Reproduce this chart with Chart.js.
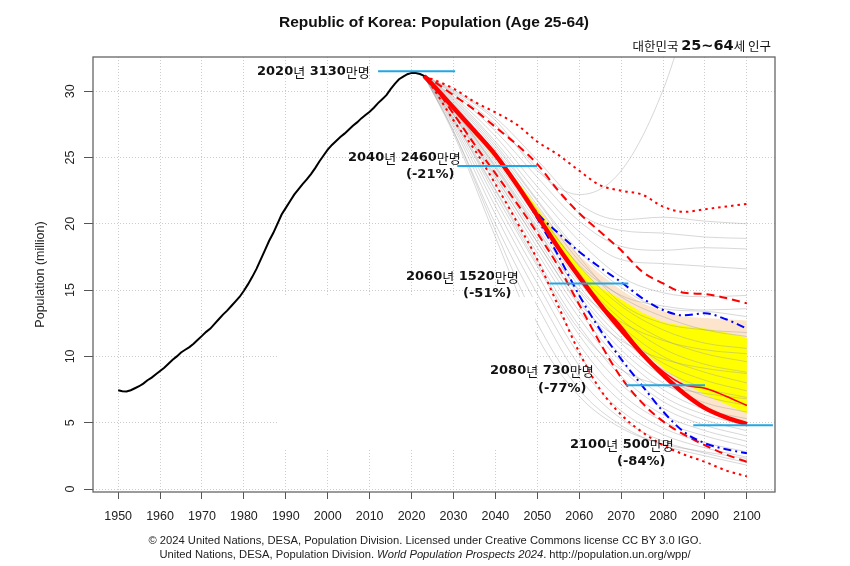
<!DOCTYPE html>
<html><head><meta charset="utf-8">
<script src="https://cdn.jsdelivr.net/npm/chart.js@4.4.1/dist/chart.umd.min.js"></script>
<style>html,body{margin:0;padding:0;background:#fff}canvas{display:block}</style>
</head><body>
<canvas id="c" width="850" height="566"></canvas>
<script>
// ---------- DATA ----------
const histYears = [1950,1951,1952,1953,1954,1955,1956,1957,1958,1959,1960,1961,1962,1963,1964,1965,1966,1967,1968,1969,1970,1971,1972,1973,1974,1975,1976,1977,1978,1979,1980,1981,1982,1983,1984,1985,1986,1987,1988,1989,1990,1991,1992,1993,1994,1995,1996,1997,1998,1999,2000,2001,2002,2003,2004,2005,2006,2007,2008,2009,2010,2011,2012,2013,2014,2015,2016,2017,2018,2019,2020,2021,2022,2023];
const histValues = [7.45,7.38,7.35,7.45,7.6,7.75,7.95,8.2,8.4,8.65,8.9,9.15,9.45,9.75,10.0,10.3,10.5,10.7,10.95,11.25,11.55,11.85,12.1,12.45,12.8,13.15,13.45,13.8,14.15,14.5,14.95,15.45,16.0,16.6,17.3,18.0,18.7,19.3,20.0,20.7,21.2,21.7,22.2,22.6,23.0,23.35,23.75,24.2,24.7,25.15,25.6,25.95,26.25,26.55,26.8,27.1,27.4,27.65,27.95,28.2,28.45,28.75,29.1,29.4,29.7,30.15,30.55,30.9,31.1,31.28,31.38,31.38,31.3,31.15];

const projYears = [2023,2025,2030,2035,2040,2045,2050,2055,2060,2065,2070,2075,2080,2085,2090,2095,2100];
const median  = [31.15,30.5,28.75,27.0,25.2,23.0,20.6,18.2,16.0,13.9,12.0,10.2,8.6,7.2,6.1,5.4,4.9];
const upper80 = [31.15,30.8,29.7,28.6,27.3,26.0,24.5,22.5,20.8,19.4,18.0,16.4,15.5,14.8,14.7,14.4,14.0];
const lower80 = [31.15,30.5,28.3,26.0,23.8,21.6,19.3,16.8,13.9,11.0,8.4,6.5,5.1,4.1,3.3,2.6,2.05];
const upper95 = [31.15,30.9,30.2,29.2,28.4,27.5,26.2,25.2,24.0,22.9,22.5,22.2,21.3,20.9,21.1,21.3,21.5];
const lower95 = [31.15,30.3,27.8,25.6,23.0,20.2,17.3,13.8,10.3,7.5,5.6,4.3,3.3,2.6,2.05,1.4,0.95];
const plusHalfChild  = [31.15,30.5,28.75,27.0,25.2,23.0,20.8,19.3,17.9,16.7,15.6,14.4,13.5,13.1,13.25,12.8,12.1];
const minusHalfChild = [31.15,30.5,28.75,27.0,25.2,23.0,20.4,17.6,14.6,12.0,9.8,7.8,5.85,4.3,3.45,3.0,2.7];

const bandYears   = [2025,2030,2035,2040,2045,2050,2055,2060,2065,2070,2075,2080,2085,2090,2095,2100];
const yellowUpper = [30.5,28.75,27.0,25.25,23.3,21.2,18.9,16.8,15.2,14.3,13.3,12.6,12.3,12.1,11.8,11.4];
const yellowLower = [30.45,28.55,26.75,24.95,22.8,20.6,18.2,16.0,14.0,12.2,10.5,9.1,8.0,7.1,6.4,5.7];
const beigeUpper  = [30.5,28.75,27.0,25.25,23.3,21.3,19.3,17.6,16.2,15.0,14.0,13.4,13.0,12.9,12.8,12.7];
const beigeLower  = [30.45,28.55,26.75,24.95,22.8,20.5,18.1,15.9,13.8,11.9,10.1,8.5,7.1,6.0,5.3,4.85];

const altYears  = [2055,2060,2065,2070,2075,2080,2085,2090,2095,2100];
const altMedian = [18.2,16.0,14.0,12.3,10.3,8.85,7.85,7.6,7.0,6.3];

const trajYears = [2023,2030,2040,2050,2060,2070,2080,2090,2100];
const trajectories = [
  [31.15,30.0,27.8,24.0,22.2,24.0,30.1,40.0,48.0],
  [31.15,30.1,28.0,24.8,21.5,20.3,20.5,20.2,20.0],
  [31.15,29.9,27.5,24.2,20.8,19.5,19.3,19.0,18.9],
  [31.15,29.8,27.0,23.5,20.2,18.3,18.0,18.2,18.1],
  [31.15,29.6,26.6,22.8,19.4,17.3,17.0,16.8,16.6],
  [31.15,29.5,26.2,22.3,18.7,16.0,14.8,14.5,14.6],
  [31.15,29.4,26.0,21.8,17.9,15.2,13.6,13.4,13.0],
  [31.15,29.2,25.6,21.4,17.2,14.5,13.0,12.0,11.5],
  [31.15,29.1,25.3,21.0,16.8,13.8,12.0,11.0,10.6],
  [31.15,29.0,25.0,20.7,16.3,13.2,11.3,10.2,9.6],
  [31.15,28.9,24.8,20.4,16.0,12.8,10.6,9.4,8.8],
  [31.15,28.8,24.6,20.1,15.6,12.3,10.0,8.8,8.0],
  [31.15,28.7,24.4,19.8,15.3,11.8,9.5,8.2,7.4],
  [31.15,28.7,24.2,19.5,14.9,11.4,9.0,7.6,6.9],
  [31.15,28.6,24.0,19.2,14.6,11.0,8.5,7.0,6.3],
  [31.15,28.5,23.8,18.9,14.2,10.5,8.0,6.5,5.8],
  [31.15,28.4,23.6,18.6,13.8,10.1,7.5,6.0,5.3],
  [31.15,28.3,23.3,18.2,13.4,9.6,7.0,5.6,4.8],
  [31.15,28.2,23.0,17.8,12.9,9.1,6.6,5.2,4.4],
  [31.15,28.0,22.6,17.3,12.3,8.5,6.1,4.8,4.0],
  [31.15,27.9,22.2,16.8,11.6,7.9,5.6,4.4,3.6],
  [31.15,27.7,21.8,16.2,10.9,7.2,5.1,4.0,3.2],
  [31.15,27.5,21.3,15.5,10.1,6.6,4.6,3.5,2.8],
  [31.15,27.3,20.7,14.7,9.3,5.9,4.1,3.1,2.4],
  [31.15,27.0,20.0,13.8,8.4,5.3,3.6,2.7,2.0],
  [31.15,29.3,25.8,21.7,17.5,14.0,12.5,12.0,11.8],
  [31.15,29.0,25.2,20.9,16.9,14.6,13.8,13.5,13.6],
  [31.15,28.6,24.3,19.6,15.0,12.6,11.2,10.5,10.2],
  [31.15,28.2,23.5,18.6,14.0,11.2,9.8,9.1,8.7],
  [31.15,27.8,22.5,17.0,12.0,9.0,7.8,7.2,6.8],
  [31.15,27.0,19.5,12.5,7.5,4.8,3.3,2.5,1.8],
  [31.15,26.8,19.0,11.5,7.0,4.6,3.4,2.8,2.3]
];

const markYears  = [[2012.0,2030.4],[2030.9,2050.0],[2052.9,2071.7],[2071.2,2090.0],[2087.2,2106.2]];
const markValues = [31.5,24.36,15.5,7.82,4.8];
const labelYears   = ['2020','2040','2060','2080','2100'];
const labelPops    = ['3130','2460','1520','730','500'];
const labelChanges = ['','(-21%)','(-51%)','(-77%)','(-84%)'];

const xTicks = [1950,1960,1970,1980,1990,2000,2010,2020,2030,2040,2050,2060,2070,2080,2090,2100];
const yTicks = [0,5,10,15,20,25,30];

// ---------- BUILD ----------
const pts = (xs, ys) => xs.map((x, i) => ({x: x, y: ys[i]}));
const NONE = 'rgba(0,0,0,0)';
const ds = [];
ds.push({data: pts(bandYears, beigeUpper), fill: 1, backgroundColor: '#fce5cc', borderColor: NONE, borderWidth: 0, order: 100});
ds.push({data: pts(bandYears, beigeLower), fill: false, borderColor: NONE, borderWidth: 0, order: 100});
ds.push({data: pts(bandYears, yellowUpper), fill: 3, backgroundColor: '#ffff00', borderColor: NONE, borderWidth: 0, order: 99});
ds.push({data: pts(bandYears, yellowLower), fill: false, borderColor: NONE, borderWidth: 0, order: 99});
trajectories.forEach(t => ds.push({data: pts(trajYears, t), borderColor: 'rgba(160,160,160,0.42)', borderWidth: 1, cubicInterpolationMode: 'monotone', order: 90}));
const piStyle = (vals, dash) => ({data: pts(projYears, vals), borderColor: '#ff0000', borderWidth: 2, borderDash: dash, cubicInterpolationMode: 'monotone', order: 50});
ds.push(piStyle(upper95, [2.5, 4]));
ds.push(piStyle(lower95, [2.5, 4]));
ds.push(piStyle(upper80, [8, 5]));
ds.push(piStyle(lower80, [8, 5]));
ds.push({data: pts(projYears, plusHalfChild), borderColor: '#0000ff', borderWidth: 2, borderDash: [8, 4, 2, 4], cubicInterpolationMode: 'monotone', order: 40});
ds.push({data: pts(projYears, minusHalfChild), borderColor: '#0000ff', borderWidth: 2, borderDash: [8, 4, 2, 4], cubicInterpolationMode: 'monotone', order: 40});
ds.push({data: pts(projYears, median), borderColor: '#ff0000', borderWidth: 4.5, cubicInterpolationMode: 'monotone', order: 30});
ds.push({data: pts(altYears, altMedian), borderColor: '#ff0000', borderWidth: 1.5, cubicInterpolationMode: 'monotone', order: 20});
ds.push({data: pts(histYears, histValues), borderColor: '#000000', borderWidth: 2, order: 10});
markYears.forEach((xs, i) => ds.push({data: pts(xs, [markValues[i], markValues[i]]), borderColor: '#22a7e6', borderWidth: 2, order: 5}));

const FONT = '"Liberation Sans", Arial, sans-serif';
const B = 'bold 13px "DejaVu Sans", sans-serif';
const K = '13px "Noto Sans CJK KR", sans-serif';

function drawRuns(ctx, x, y, parts) {
  let cx = x;
  for (const [t, f] of parts) { ctx.font = f; ctx.fillText(t, cx, y); cx += ctx.measureText(t).width; }
}
function runsWidth(ctx, parts) {
  let w = 0;
  for (const [t, f] of parts) { ctx.font = f; w += ctx.measureText(t).width; }
  return w;
}

const labelPos = [[257, 72, 0, 0], [348, 158, 406, 175], [406, 277, 463, 294], [490, 371, 538, 389], [570, 445, 617, 462]];

const textPlugin = {
  id: 'texts',
  afterDatasetsDraw(chart) {
    const ctx = chart.ctx;
    ctx.save();
    ctx.fillStyle = '#ffffff';
    ctx.fillRect(277, 297, 258, 151);
    ctx.restore();
  },
  afterDraw(chart) {
    const ctx = chart.ctx, a = chart.chartArea;
    ctx.save();
    ctx.strokeStyle = '#666'; ctx.lineWidth = 1.3;
    ctx.strokeRect(a.left, a.top, a.right - a.left, a.bottom - a.top);
    ctx.fillStyle = '#111';
    ctx.textBaseline = 'middle';
    ctx.textAlign = 'center';
    ctx.font = 'bold 15.5px ' + FONT;
    ctx.fillText('Republic of Korea: Population (Age 25-64)', (a.left + a.right) / 2, 23);
    ctx.textAlign = 'left';
    const sub = [['대한민국 ', '12.5px "Noto Sans CJK KR", sans-serif'], ['25~64', 'bold 14.5px "DejaVu Sans", sans-serif'], ['세 인구', '12.5px "Noto Sans CJK KR", sans-serif']];
    drawRuns(ctx, 771 - runsWidth(ctx, sub), 46, sub);
    labelYears.forEach((yr, i) => {
      const p = labelPos[i];
      drawRuns(ctx, p[0], p[1], [[yr, B], ['년', K], [' ' + labelPops[i], B], ['만명', K]]);
      if (labelChanges[i]) drawRuns(ctx, p[2], p[3], [[labelChanges[i], B]]);
    });
    ctx.fillStyle = '#222';
    ctx.textAlign = 'center';
    ctx.font = '11.2px ' + FONT;
    ctx.fillText('\u00A9 2024 United Nations, DESA, Population Division. Licensed under Creative Commons license CC BY 3.0 IGO.', 425, 541);
    ctx.textAlign = 'left';
    const cr = [['United Nations, DESA, Population Division. ', '11.2px ' + FONT], ['World Population Prospects 2024', 'italic 11.2px ' + FONT], ['. http://population.un.org/wpp/', '11.2px ' + FONT]];
    drawRuns(ctx, 425 - runsWidth(ctx, cr) / 2, 555, cr);
    ctx.restore();
  }
};

const gridCommon = {color: '#cccccc', lineWidth: 1, drawTicks: true, tickColor: '#555', tickWidth: 1, tickBorderDash: []};
new Chart(document.getElementById('c'), {
  type: 'line',
  data: {datasets: ds},
  options: {
    responsive: false, animation: false, devicePixelRatio: 1, events: [],
    layout: {padding: {left: 0, right: 75, top: 57, bottom: 0}},
    plugins: {legend: {display: false}, tooltip: {enabled: false}, title: {display: false}},
    elements: {point: {radius: 0}, line: {tension: 0, borderCapStyle: 'butt'}},
    scales: {
      x: {
        type: 'linear', min: 1944, max: 2106.7,
        afterBuildTicks: s => { s.ticks = xTicks.map(v => ({value: v})); },
        afterFit: s => { s.height = 74; },
        ticks: {callback: v => String(v), autoSkip: false, maxRotation: 0, minRotation: 0, padding: 10, color: '#222', font: {family: FONT, size: 12.5}},
        grid: Object.assign({tickLength: 7}, gridCommon),
        border: {display: false, dash: [1, 2]}
      },
      y: {
        type: 'linear', min: -0.226, max: 32.58,
        afterBuildTicks: s => { s.ticks = yTicks.map(v => ({value: v})); },
        afterFit: s => { s.width = 93; },
        ticks: {minRotation: 90, maxRotation: 90, crossAlign: 'center', padding: 7, autoSkip: false, color: '#222', font: {family: FONT, size: 12.5}},
        grid: Object.assign({tickLength: 9}, gridCommon),
        border: {display: false, dash: [1, 2]},
        title: {display: true, text: 'Population (million)', color: '#222', padding: {top: 33, bottom: 0}, font: {family: FONT, size: 12.5}}
      }
    }
  },
  plugins: [textPlugin]
});
</script>
</body></html>
